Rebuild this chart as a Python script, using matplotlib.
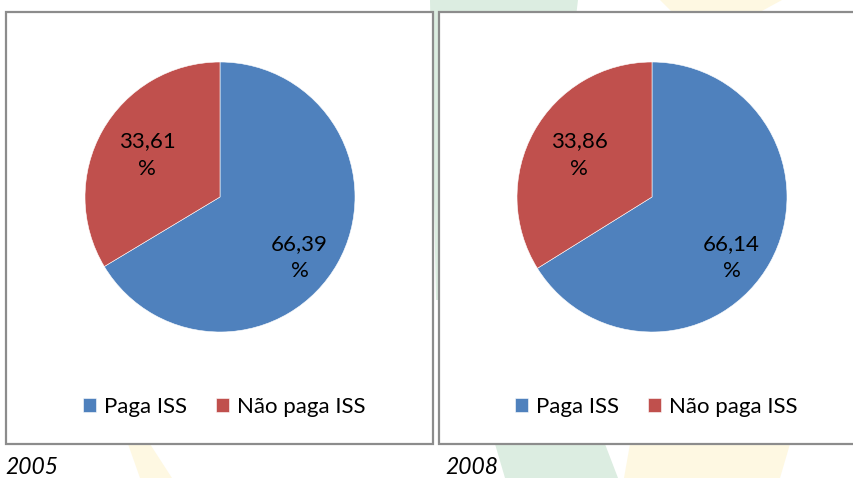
import matplotlib
matplotlib.use("Agg")
import matplotlib.pyplot as plt
from matplotlib.patches import Rectangle, Polygon
import numpy as np

plt.rcParams['font.family'] = ['Lato', 'DejaVu Sans']

# data
labels = ['Paga ISS', 'Não paga ISS']
years = ['2005', '2008']
values_2005 = [66.39, 33.61]
values_2008 = [66.14, 33.86]
colors = ['#4f81bd', '#c0504d']

W, H = 854, 478
fig = plt.figure(figsize=(W / 100, H / 100), dpi=100)
fig.patch.set_facecolor('white')


def fx(px):
    return px / W


def fy(py):
    return 1 - py / H


# faint watermark behind the boxes
green = '#dcede1'
yellow = '#fef8e2'
for pts, c in [
    ([(430, 0), (578, 0), (560, 150), (480, 300), (436, 300)], green),
    ([(495, 444), (605, 444), (618, 478), (505, 478)], green),
    ([(660, 0), (782, 0), (760, 12), (672, 12)], yellow),
    ([(630, 444), (790, 444), (780, 478), (624, 478)], yellow),
    ([(128, 444), (150, 444), (172, 478), (140, 478)], yellow),
]:
    fig.add_artist(Polygon([(fx(x), fy(y)) for x, y in pts], closed=True,
                           transform=fig.transFigure, facecolor=c,
                           edgecolor='none', zorder=0))

# chart boxes
for x0, x1 in [(6, 433), (439, 860)]:
    fig.add_artist(Rectangle((fx(x0), fy(444)), fx(x1 - x0), (444 - 12) / H,
                             transform=fig.transFigure, facecolor='white',
                             edgecolor='#8c8c8c', linewidth=1.6, zorder=1))

R = 135
centers = [(220, 197), (652, 197)]
label_pos = [(0.59, -0.45), (-0.54, 0.31)]

for (cx, cy), vals, year, capx in zip(centers, [values_2005, values_2008], years, [5, 445]):
    ax = fig.add_axes([fx(cx - R), fy(cy + R), fx(2 * R), 2 * R / H])
    ax.set_zorder(2)
    wedges, _ = ax.pie(vals, colors=colors, startangle=90, counterclock=False,
                       radius=1, wedgeprops=dict(edgecolor='white', linewidth=0.4))
    ax.set_xlim(-1, 1)
    ax.set_ylim(-1, 1)
    for v, (lx, ly) in zip(vals, label_pos):
        ax.text(lx, ly, f"{v:.2f}".replace('.', ',') + "\n%", ha='center', va='center',
                fontsize=16, color='black', linespacing=1.45)
    ax.legend(wedges, labels, loc='center', bbox_to_anchor=(fx(cx + 4), fy(407)),
              bbox_transform=fig.transFigure, ncol=2, frameon=False, fontsize=16,
              handlelength=0.6, handleheight=0.6, handletextpad=0.35,
              columnspacing=1.3)
    fig.text(fx(capx), fy(467), year, ha='left', va='center', fontsize=16.5,
             style='italic', color='black', zorder=3)

fig.savefig('out.png', dpi=100, facecolor='white')
